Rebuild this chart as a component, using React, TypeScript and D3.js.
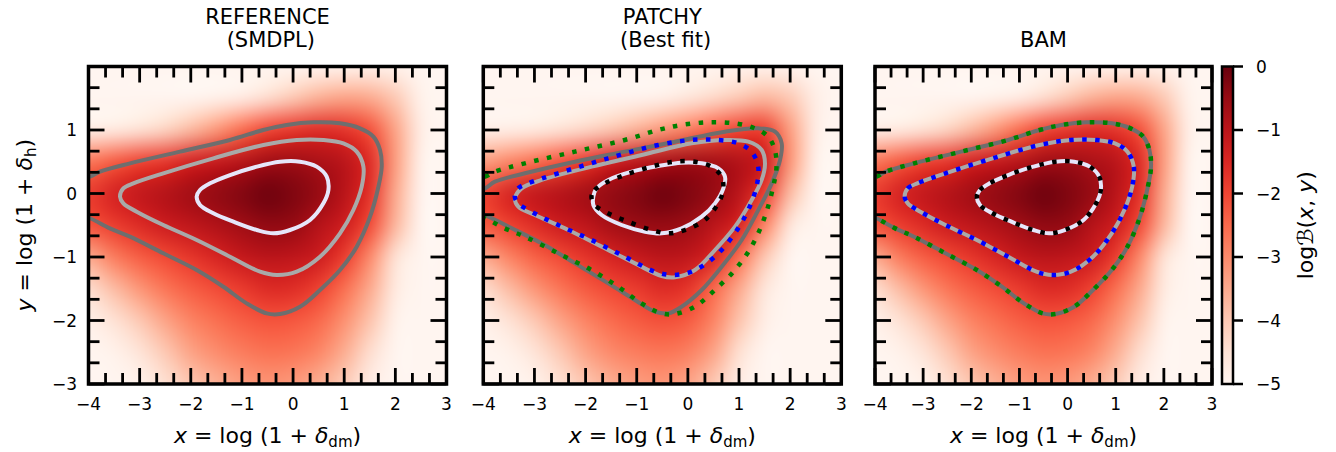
import React, { useMemo } from 'react';
import * as d3 from 'd3';

type Pt = [number, number];

// grid of log B(x, y), rows from y = 2 down to y = -3
const xGrid = [-4, -3.5, -3, -2.5, -2, -1.5, -1, -0.5, 0, 0.5, 1, 1.5, 2, 2.5, 3];
const yGrid = [2, 1.5, 1, 0.5, 0, -0.5, -1, -1.5, -2, -2.5, -3];

const refField = [
  [-5, -5, -5, -5, -5, -5, -5, -5, -5, -4.95, -4.9, -4.85, -4.9, -5, -5],
  [-5, -5, -5, -5, -5, -4.9, -4.75, -4.4, -4.0, -3.6, -3.4, -3.5, -4.0, -4.9, -5],
  [-4.8, -4.7, -4.5, -4.2, -3.75, -3.2, -2.55, -2.0, -1.75, -1.6, -1.7, -2.15, -3.4, -4.8, -5],
  [-2.7, -2.3, -1.95, -1.75, -1.4, -1.18, -0.95, -0.65, -0.6, -0.76, -0.98, -1.6, -3.3, -4.9, -5],
  [-1.85, -1.42, -1.12, -0.89, -0.65, -0.46, -0.28, -0.08, -0.24, -0.5, -0.96, -1.7, -3.5, -4.95, -5],
  [-2.2, -1.88, -1.58, -1.28, -1.06, -0.84, -0.62, -0.45, -0.5, -0.9, -1.3, -2.1, -3.7, -5, -5],
  [-3.5, -2.8, -2.35, -2.05, -1.76, -1.46, -1.15, -1.0, -1.05, -1.28, -1.88, -3.0, -4.5, -5, -5],
  [-4.4, -3.8, -3.2, -2.7, -2.35, -2.1, -1.85, -1.58, -1.62, -1.95, -2.6, -3.5, -4.7, -5, -5],
  [-4.85, -4.5, -4.0, -3.4, -2.9, -2.6, -2.35, -2.2, -2.25, -2.5, -3.1, -3.9, -4.9, -5, -5],
  [-5, -4.9, -4.55, -4.0, -3.4, -3.05, -2.8, -2.65, -2.7, -2.95, -3.55, -4.4, -5, -5, -5],
  [-5, -5, -4.9, -4.45, -3.95, -3.6, -3.3, -3.15, -3.25, -3.55, -4.05, -4.75, -5, -5, -5],
];

const patchyField = [
  [-5, -5, -5, -5, -5, -5, -5, -5, -5, -5, -4.95, -4.9, -4.95, -5, -5],
  [-5, -5, -5, -5, -5, -5, -4.95, -4.85, -4.6, -4.3, -4.0, -3.7, -4.0, -4.8, -5],
  [-4.85, -4.8, -4.7, -4.5, -4.25, -3.95, -3.6, -3.2, -2.8, -2.35, -1.95, -1.9, -3.3, -4.8, -5],
  [-3.3, -2.95, -2.6, -2.2, -1.8, -1.33, -1.04, -0.78, -0.62, -0.68, -0.86, -1.28, -3.2, -4.9, -5],
  [-1.95, -1.45, -1.12, -0.9, -0.66, -0.46, -0.28, -0.08, -0.24, -0.5, -0.97, -1.88, -3.8, -5, -5],
  [-2.3, -1.95, -1.61, -1.27, -1.05, -0.71, -0.55, -0.5, -0.6, -0.98, -1.46, -2.9, -4.6, -5, -5],
  [-3.5, -2.9, -2.4, -2.06, -1.74, -1.44, -1.18, -1.0, -1.07, -1.49, -2.6, -4.0, -5, -5, -5],
  [-4.4, -3.8, -3.2, -2.7, -2.3, -2.04, -1.85, -1.58, -1.75, -2.5, -3.5, -4.6, -5, -5, -5],
  [-4.85, -4.5, -4.0, -3.4, -2.9, -2.55, -2.3, -2.15, -2.3, -2.9, -3.9, -4.8, -5, -5, -5],
  [-5, -4.9, -4.55, -4.0, -3.4, -3.0, -2.8, -2.7, -2.85, -3.4, -4.45, -5, -5, -5, -5],
  [-5, -5, -4.9, -4.45, -3.95, -3.55, -3.3, -3.2, -3.4, -4.0, -4.75, -5, -5, -5, -5],
];

const bamField = refField;

// contour lines (x, y)
const refOuter: Pt[] = [
  [-4.3, 0.2], [-3.97, 0.265], [-3.775, 0.344], [-3.188, 0.475], [-2.21, 0.659], [-1.233, 0.843],
  [-0.581, 1.0], [-0.125, 1.079], [0.397, 1.121], [0.918, 1.105], [1.309, 1.026], [1.57, 0.895],
  [1.7, 0.685], [1.733, 0.422], [1.668, 0.107], [1.505, -0.365], [1.244, -0.837], [0.918, -1.205],
  [0.527, -1.52], [0.136, -1.783], [-0.255, -1.898], [-0.516, -1.888], [-0.907, -1.73],
  [-1.363, -1.468], [-1.885, -1.205], [-2.537, -0.942], [-3.188, -0.68], [-3.58, -0.549],
  [-3.97, -0.39], [-4.3, -0.3],
];
const refMiddle: Pt[] = [
  [-3.384, -0.05], [-3.319, 0.081], [-3.123, 0.16], [-2.537, 0.318], [-1.559, 0.554], [-0.581, 0.764],
  [0.071, 0.843], [0.593, 0.843], [0.984, 0.79], [1.244, 0.659], [1.375, 0.423], [1.342, 0.108],
  [1.179, -0.26], [0.918, -0.627], [0.527, -0.995], [0.071, -1.231], [-0.32, -1.283], [-0.646, -1.231],
  [-1.233, -0.995], [-1.885, -0.732], [-2.537, -0.496], [-3.058, -0.286], [-3.319, -0.155],
];
const refInner: Pt[] = [
  [-1.885, -0.05], [-1.82, 0.055], [-1.624, 0.16], [-1.233, 0.291], [-0.711, 0.423], [-0.255, 0.501],
  [0.136, 0.501], [0.462, 0.423], [0.658, 0.265], [0.691, 0.055], [0.593, -0.155], [0.332, -0.417],
  [-0.059, -0.575], [-0.385, -0.627], [-0.711, -0.575], [-1.168, -0.444], [-1.559, -0.312],
  [-1.82, -0.181],
];

const patchyOuter: Pt[] = [
  [-4.3, 0.0], [-3.967, 0.081], [-3.772, 0.186], [-3.185, 0.318], [-2.207, 0.501], [-1.229, 0.659],
  [-0.252, 0.816], [0.726, 0.974], [1.378, 1.026], [1.704, 0.974], [1.834, 0.79], [1.802, 0.528],
  [1.639, 0.16], [1.378, -0.257], [1.052, -0.732], [0.661, -1.152], [0.27, -1.52], [-0.121, -1.782],
  [-0.382, -1.887], [-0.643, -1.861], [-1.034, -1.677], [-1.555, -1.415], [-2.207, -1.1],
  [-2.859, -0.785], [-3.511, -0.52], [-3.967, -0.339], [-4.3, -0.25],
];
const patchyMiddle: Pt[] = [
  [-3.381, -0.076], [-3.25, 0.081], [-2.859, 0.213], [-1.881, 0.423], [-0.904, 0.606], [0.074, 0.79],
  [0.726, 0.843], [1.182, 0.816], [1.443, 0.685], [1.508, 0.475], [1.443, 0.213], [1.248, -0.102],
  [0.922, -0.522], [0.531, -0.89], [0.139, -1.205], [-0.252, -1.32], [-0.512, -1.3], [-1.034, -1.1],
  [-1.686, -0.837], [-2.338, -0.575], [-2.99, -0.339], [-3.316, -0.207],
];
const patchyInner: Pt[] = [
  [-1.849, -0.05], [-1.784, 0.081], [-1.555, 0.213], [-1.099, 0.344], [-0.578, 0.433], [-0.121, 0.486],
  [0.27, 0.475], [0.596, 0.396], [0.726, 0.265], [0.694, 0.081], [0.531, -0.155], [0.27, -0.365],
  [-0.121, -0.549], [-0.512, -0.627], [-0.838, -0.601], [-1.295, -0.496], [-1.686, -0.339],
  [-1.849, -0.181],
];

const bamOuter = refOuter;
const bamMiddle = refMiddle;
const bamInner = refInner;

const xTicks = [-4, -3, -2, -1, 0, 1, 2, 3];
const yTicks = [-3, -2, -1, 0, 1, 2];
const yTickLabels = [-3, -2, -1, 0, 1];
const cbTicks = [0, -1, -2, -3, -4, -5];

const FONT = 'DejaVu Sans';
const TOP = 66.5;
const BOTTOM = 384;
const color = d3.scaleSequential(d3.interpolateReds).domain([-5, 0]);
const fmt = d3.format('d');

const solidColors = ['#6e6e6e', '#a9a9a9', '#e6e6fa'];
const dottedColors = ['#008000', '#0000ff', '#000000'];

// paint the grid into a tiny canvas, then let the canvas scale it up smoothly
function fieldImage(field: number[][]) {
  const w = field[0].length;
  const h = field.length;
  const small = document.createElement('canvas');
  small.width = w;
  small.height = h;
  const sctx = small.getContext('2d')!;
  const img = sctx.createImageData(w, h);
  field.forEach((row, j) =>
    row.forEach((v, i) => {
      const c = d3.rgb(color(v));
      const k = (j * w + i) * 4;
      img.data[k] = c.r;
      img.data[k + 1] = c.g;
      img.data[k + 2] = c.b;
      img.data[k + 3] = 255;
    })
  );
  sctx.putImageData(img, 0, 0);

  const scale = 32;
  const big = document.createElement('canvas');
  big.width = w * scale;
  big.height = h * scale;
  const bctx = big.getContext('2d')!;
  bctx.imageSmoothingEnabled = true;
  bctx.imageSmoothingQuality = 'high';
  bctx.drawImage(small, 0, 0, big.width, big.height);
  return big.toDataURL();
}

function thirds(lo: number, hi: number) {
  return d3.range(0, Math.round((hi - lo) * 3) + 1)
    .map((k) => lo + k / 3)
    .filter((v) => Math.abs(v - Math.round(v)) > 1e-6);
}

const XLabel = ({ cx }: { cx: number }) => (
  <text x={cx} y={443} textAnchor="middle" fontSize={22} fontFamily={FONT} style={{ whiteSpace: 'pre' }}>
    <tspan fontStyle="italic">x</tspan>
    <tspan>{' = log (1 + '}</tspan>
    <tspan fontStyle="italic">δ</tspan>
    <tspan fontSize={15} dy={3.5}>dm</tspan>
    <tspan dy={-3.5}>)</tspan>
  </text>
);

type PanelProps = {
  id: string;
  left: number;
  right: number;
  title: string[];
  field: number[][];
  solid: Pt[][];
  dotted?: Pt[][];
  yLabels?: boolean;
};

const Panel = ({ id, left, right, title, field, solid, dotted, yLabels }: PanelProps) => {
  const x = d3.scaleLinear().domain([-4, 3]).range([left, right]);
  const y = d3.scaleLinear().domain([-3, 2]).range([BOTTOM, TOP]);
  const href = useMemo(() => fieldImage(field), [field]);
  const line = d3
    .line<Pt>()
    .x((d) => x(d[0]))
    .y((d) => y(d[1]))
    .curve(d3.curveCatmullRomClosed.alpha(0.5));
  const half = (xGrid[1] - xGrid[0]) / 2;
  const x0 = x(xGrid[0] - half);
  const x1 = x(xGrid[xGrid.length - 1] + half);
  const y0 = y(yGrid[0] + half);
  const y1 = y(yGrid[yGrid.length - 1] - half);
  const cx = (left + right) / 2;

  const major = 16;
  const minor = 11;
  const ticks: JSX.Element[] = [];
  xTicks.forEach((t) => {
    ticks.push(<line key={`xb${t}`} x1={x(t)} x2={x(t)} y1={BOTTOM} y2={BOTTOM - major} />);
    ticks.push(<line key={`xt${t}`} x1={x(t)} x2={x(t)} y1={TOP} y2={TOP + major} />);
  });
  thirds(-4, 3).forEach((t, i) => {
    ticks.push(<line key={`xbm${i}`} x1={x(t)} x2={x(t)} y1={BOTTOM} y2={BOTTOM - minor} />);
    ticks.push(<line key={`xtm${i}`} x1={x(t)} x2={x(t)} y1={TOP} y2={TOP + minor} />);
  });
  yTicks.forEach((t) => {
    ticks.push(<line key={`yl${t}`} x1={left} x2={left + major} y1={y(t)} y2={y(t)} />);
    ticks.push(<line key={`yr${t}`} x1={right} x2={right - major} y1={y(t)} y2={y(t)} />);
  });
  thirds(-3, 2).forEach((t, i) => {
    ticks.push(<line key={`ylm${i}`} x1={left} x2={left + minor} y1={y(t)} y2={y(t)} />);
    ticks.push(<line key={`yrm${i}`} x1={right} x2={right - minor} y1={y(t)} y2={y(t)} />);
  });

  return (
    <g>
      <defs>
        <clipPath id={id}>
          <rect x={left} y={TOP} width={right - left} height={BOTTOM - TOP} />
        </clipPath>
      </defs>
      <g clipPath={`url(#${id})`}>
        <image href={href} x={x0} y={y0} width={x1 - x0} height={y1 - y0} preserveAspectRatio="none" />
        {solid.map((c, i) => (
          <path key={`s${i}`} d={line(c) || ''} fill="none" stroke={solidColors[i]} strokeWidth={4} />
        ))}
        {dotted &&
          dotted.map((c, i) => (
            <path
              key={`d${i}`}
              d={line(c) || ''}
              fill="none"
              stroke={dottedColors[i]}
              strokeWidth={4.5}
              strokeDasharray="4.5 8.5"
            />
          ))}
      </g>
      <g stroke="#000" strokeWidth={2.8}>{ticks}</g>
      <rect x={left} y={TOP} width={right - left} height={BOTTOM - TOP} fill="none" stroke="#000" strokeWidth={3.5} />
      {xTicks.map((t) => (
        <text key={`xl${t}`} x={x(t)} y={410} textAnchor="middle" fontSize={17} fontFamily={FONT}>
          {fmt(t)}
        </text>
      ))}
      {yLabels &&
        yTickLabels.map((t) => (
          <text key={`yl${t}`} x={77} y={y(t)} dy="0.36em" textAnchor="end" fontSize={17} fontFamily={FONT}>
            {fmt(t)}
          </text>
        ))}
      {title.map((s, i) => (
        <text
          key={`t${i}`}
          x={cx}
          y={title.length === 1 ? 47 : 24 + i * 23}
          textAnchor="middle"
          fontSize={21}
          fontFamily={FONT}
        >
          {s}
        </text>
      ))}
      <XLabel cx={cx} />
    </g>
  );
};

const Colorbar = () => {
  const left = 1222;
  const right = 1233;
  const c = d3.scaleLinear().domain([-5, 0]).range([BOTTOM, TOP]);
  const stops = d3.range(0, 11).map((k) => k / 10);
  return (
    <g>
      <defs>
        <linearGradient id="cbgrad" x1="0" y1="1" x2="0" y2="0">
          {stops.map((s) => (
            <stop key={s} offset={s} stopColor={color(-5 + 5 * s)} />
          ))}
        </linearGradient>
      </defs>
      <rect x={left} y={TOP} width={right - left} height={BOTTOM - TOP} fill="url(#cbgrad)" />
      <rect x={left} y={TOP} width={right - left} height={BOTTOM - TOP} fill="none" stroke="#000" strokeWidth={2.5} />
      {cbTicks.map((t) => (
        <g key={t}>
          <line x1={right} x2={right + 10} y1={c(t)} y2={c(t)} stroke="#000" strokeWidth={2.5} />
          <text x={1256} y={c(t)} dy="0.36em" fontSize={17} fontFamily={FONT}>
            {fmt(t)}
          </text>
        </g>
      ))}
      <text
        transform={`translate(1313, ${(TOP + BOTTOM) / 2}) rotate(-90)`}
        textAnchor="middle"
        fontSize={22}
        fontFamily={FONT}
        style={{ whiteSpace: 'pre' }}
      >
        <tspan>logℬ(</tspan>
        <tspan fontStyle="italic">x</tspan>
        <tspan>{', '}</tspan>
        <tspan fontStyle="italic">y</tspan>
        <tspan>)</tspan>
      </text>
    </g>
  );
};

export default function App() {
  return (
    <svg
      width={1336}
      height={452}
      style={{ position: 'absolute', left: 0, top: 0, background: '#fff' }}
    >
      <Panel
        id="p1"
        left={88.5}
        right={446.5}
        title={['REFERENCE', '\u00a0(SMDPL)']}
        field={refField}
        solid={[refOuter, refMiddle, refInner]}
        yLabels
      />
      <Panel
        id="p2"
        left={483.3}
        right={841.3}
        title={['PATCHY', '\u00a0(Best fit)']}
        field={patchyField}
        solid={[patchyOuter, patchyMiddle, patchyInner]}
        dotted={[refOuter, refMiddle, refInner]}
      />
      <Panel
        id="p3"
        left={875}
        right={1212}
        title={['BAM']}
        field={bamField}
        solid={[refOuter, refMiddle, refInner]}
        dotted={[bamOuter, bamMiddle, bamInner]}
      />
      <text
        transform={`translate(32, ${(TOP + BOTTOM) / 2}) rotate(-90)`}
        textAnchor="middle"
        fontSize={22}
        fontFamily={FONT}
        style={{ whiteSpace: 'pre' }}
      >
        <tspan fontStyle="italic">y</tspan>
        <tspan>{' = log (1 + '}</tspan>
        <tspan fontStyle="italic">δ</tspan>
        <tspan fontSize={15} dy={3.5}>h</tspan>
        <tspan dy={-3.5}>)</tspan>
      </text>
      <Colorbar />
    </svg>
  );
}
